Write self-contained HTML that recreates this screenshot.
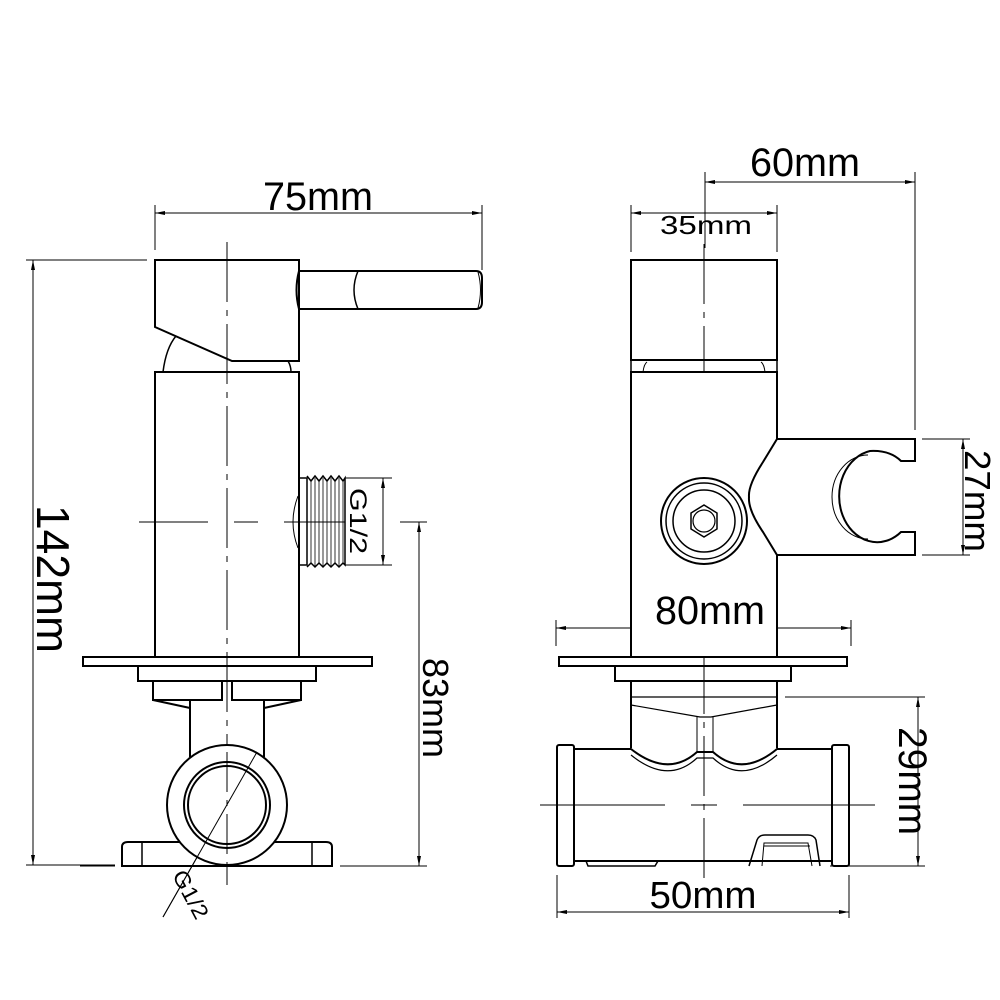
<!DOCTYPE html>
<html><head><meta charset="utf-8"><style>
html,body{margin:0;padding:0;background:#fff}
svg{display:block}
text{font-family:"Liberation Sans",sans-serif;fill:#000}
</style></head><body>
<svg width="1000" height="1000" viewBox="0 0 1000 1000" xmlns="http://www.w3.org/2000/svg">
<defs>
<marker id="a" viewBox="0 0 10 6" refX="10" refY="3" markerWidth="10" markerHeight="6" orient="auto-start-reverse" markerUnits="userSpaceOnUse"><path d="M0,1 L10,3 L0,5 Z" fill="#000"/></marker>
</defs>
<g fill="none" stroke="#000" stroke-width="1">
<!-- ============ LEFT VIEW dimension lines ============ -->
<line x1="155" y1="205" x2="155" y2="250"/>
<line x1="482" y1="205" x2="482" y2="270"/>
<line x1="155" y1="213" x2="482" y2="213" marker-start="url(#a)" marker-end="url(#a)"/>
<line x1="26" y1="260" x2="147" y2="260"/>
<line x1="26" y1="865" x2="115" y2="865"/>
<line x1="33" y1="260" x2="33" y2="865" marker-start="url(#a)" marker-end="url(#a)"/>
<line x1="345" y1="478" x2="392" y2="478"/>
<line x1="345" y1="565" x2="392" y2="565"/>
<line x1="383" y1="478" x2="383" y2="565" marker-start="url(#a)" marker-end="url(#a)"/>
<line x1="400" y1="522" x2="427" y2="522"/>
<line x1="340" y1="866" x2="427" y2="866"/>
<line x1="419" y1="522" x2="419" y2="866" marker-start="url(#a)" marker-end="url(#a)"/>
<line x1="257" y1="752" x2="163" y2="917"/>
<!-- center lines left -->
<g stroke-dasharray="60,8,6,8">
<line x1="227" y1="242" x2="227" y2="885"/>
</g>
<line x1="139" y1="522" x2="208" y2="522"/>
<line x1="234" y1="522" x2="258" y2="522"/>
<line x1="284" y1="522" x2="345" y2="522"/>
</g>

<g fill="none" stroke="#000" stroke-width="2">
<!-- handle -->
<path d="M155,260 H299 V361 H232 L155,327 Z"/>
<path d="M299,271 H476 Q482,271 482,278 V302 Q482,309 476,309 H299 Q294,290 299,271 Z"/>
<path d="M358,271 Q350,290 358,309" stroke-width="1.5"/>
<path d="M478,272 Q483,290 478,308" stroke-width="1"/>
<path d="M163,372 Q166,348 176,336" stroke-width="1.5"/>
<path d="M288,361 Q291,366 291,372" stroke-width="1.5"/>
<!-- body -->
<rect x="155" y="372" width="144" height="285"/>
<!-- thread -->
<rect x="299" y="478" width="8" height="87" stroke-width="1.5"/>
<path d="M307,476 L311,481 L315,476 L319,481 L323,476 L327,481 L331,476 L335,481 L339,476 L343,481 L345,478 V565 L343,563 L339,567 L335,563 L331,567 L327,563 L323,567 L319,563 L315,567 L311,563 L307,567" stroke-width="1.5"/>
<path d="M311,481 V563 M315,478 V566 M319,481 V563 M323,478 V566 M327,481 V563 M331,478 V566 M335,481 V563 M339,478 V566 M343,481 V563" stroke-width="0.8"/>
<path d="M298,496 Q288,522 298,548" stroke-width="1"/>
<!-- plate etc -->
<rect x="83" y="657" width="289" height="9"/>
<rect x="138" y="666" width="178" height="15"/>
<rect x="153" y="681" width="69" height="19"/>
<rect x="232" y="681" width="69" height="19"/>
<path d="M153,700 L190,708 M301,700 L264,708"/>
<path d="M190,700 V757 M264,700 V757"/>
<!-- foot -->
<path d="M122,866 V847 Q122,842 128,842 H326 Q332,842 332,847 V866 Z"/>
<path d="M142,843 V866 M312,843 V866" stroke-width="1.5"/>
<circle cx="227" cy="805" r="60" fill="#fff"/>
<circle cx="227" cy="805" r="43"/>
<circle cx="227" cy="805" r="39"/>
</g>
<g fill="none" stroke="#000" stroke-width="1">
<line x1="227" y1="752" x2="227" y2="885" stroke-dasharray="40,8,6,8"/>
<line x1="257" y1="752" x2="163" y2="917"/>
<line x1="80" y1="866" x2="115" y2="866"/>
</g>

<!-- left labels -->
<text x="318" y="210" font-size="40" text-anchor="middle" textLength="110" lengthAdjust="spacingAndGlyphs">75mm</text>
<text transform="translate(37,579) rotate(90)" font-size="46" text-anchor="middle" textLength="148" lengthAdjust="spacingAndGlyphs">142mm</text>
<text transform="translate(350,521) rotate(90)" font-size="24" text-anchor="middle" textLength="66" lengthAdjust="spacingAndGlyphs">G1/2</text>
<text transform="translate(423,708) rotate(90)" font-size="36" text-anchor="middle" textLength="100" lengthAdjust="spacingAndGlyphs">83mm</text>
<text transform="translate(184,898) rotate(62)" font-size="22" text-anchor="middle" textLength="52" lengthAdjust="spacingAndGlyphs">G1/2</text>

<!-- ============ RIGHT VIEW ============ -->
<g fill="none" stroke="#000" stroke-width="1">
<line x1="705" y1="172" x2="705" y2="248"/>
<line x1="915" y1="172" x2="915" y2="430"/>
<line x1="705" y1="182" x2="915" y2="182" marker-start="url(#a)" marker-end="url(#a)"/>
<line x1="631" y1="205" x2="631" y2="252"/>
<line x1="777" y1="205" x2="777" y2="252"/>
<line x1="631" y1="213" x2="777" y2="213" marker-start="url(#a)" marker-end="url(#a)"/>
<line x1="922" y1="439" x2="970" y2="439"/>
<line x1="922" y1="555" x2="970" y2="555"/>
<line x1="963" y1="439" x2="963" y2="555" marker-start="url(#a)" marker-end="url(#a)"/>
<line x1="556" y1="620" x2="556" y2="646"/>
<line x1="851" y1="620" x2="851" y2="646"/>
<line x1="556" y1="628" x2="851" y2="628" marker-start="url(#a)" marker-end="url(#a)"/>
<line x1="785" y1="697" x2="925" y2="697"/>
<line x1="830" y1="866" x2="925" y2="866"/>
<line x1="918" y1="697" x2="918" y2="866" marker-start="url(#a)" marker-end="url(#a)"/>
<line x1="557" y1="875" x2="557" y2="918"/>
<line x1="849" y1="875" x2="849" y2="918"/>
<line x1="557" y1="912" x2="849" y2="912" marker-start="url(#a)" marker-end="url(#a)"/>
<line x1="704" y1="244" x2="704" y2="885" stroke-dasharray="60,8,6,8"/>
<line x1="540" y1="805" x2="665" y2="805"/>
<line x1="691" y1="805" x2="717" y2="805"/>
<line x1="743" y1="805" x2="875" y2="805"/>
</g>
<g fill="none" stroke="#000" stroke-width="2">
<rect x="631" y="260" width="146" height="100"/>
<path d="M631,360 V372 M777,360 V372" stroke-width="1.5"/>
<path d="M643,372 Q644,364 647,362 M765,372 Q764,364 761,362" stroke-width="1"/>
<rect x="631" y="372" width="146" height="285" fill="#fff"/>
<!-- holder -->
<path d="M777,439 H915 V461 H901 Q890,450 870,451 A38,46 0 1 0 901,532 H915 V555 H777 L763,532 Q748,510 749,497 Q748,485 763,462 Z" fill="#fff"/>
<path d="M868,455 A36,42 0 1 0 868,539" stroke-width="1"/>
<!-- knob -->
<circle cx="704" cy="521" r="43"/>
<circle cx="704" cy="521" r="38" stroke-width="1.5"/>
<circle cx="704" cy="521" r="31" stroke-width="1.5"/>
<path d="M704,505 L717,513 L717,529 L704,537 L691,529 L691,513 Z" stroke-width="1.5"/>
<circle cx="704" cy="521" r="11" stroke-width="1.2"/>
<!-- plate -->
<rect x="559" y="657" width="288" height="9"/>
<rect x="615" y="666" width="176" height="15"/>
<path d="M631,681 V748 M777,681 V748"/>
<path d="M631,697 H777" stroke-width="1.2"/>
<path d="M631,705 L700,717 L711,717 L777,705" stroke-width="1.2"/>
<path d="M697,717 V752 M713,717 V752" stroke-width="1"/>
<!-- pipe -->
<path d="M574,749 H631 Q668,778 697,752 H713 Q742,778 777,749 H832 M574,861 H832"/>
<path d="M631,755 Q668,785 697,758 H713 Q742,785 777,755" stroke-width="1.2"/>
<rect x="557" y="745" width="17" height="121" rx="2"/>
<rect x="832" y="745" width="17" height="121" rx="2"/>
<path d="M574,749 V861 M832,749 V861" stroke-width="1"/>
<path d="M586,861 L588,866 H655 L658,861" stroke-width="1.5"/>
<path d="M749,866 L757,840 Q759,835 765,835 H808 Q814,835 816,840 L820,866" stroke-width="1.5"/>
<path d="M762,866 L764,843 H808 L812,866 M764,846 H810" stroke-width="1"/>
</g>
<!-- right labels -->
<text x="805" y="176" font-size="40" text-anchor="middle" textLength="110" lengthAdjust="spacingAndGlyphs">60mm</text>
<text x="706" y="234" font-size="26" text-anchor="middle" textLength="92" lengthAdjust="spacingAndGlyphs">35mm</text>
<text x="710" y="624" font-size="40" text-anchor="middle" textLength="110" lengthAdjust="spacingAndGlyphs">80mm</text>
<text transform="translate(965,501) rotate(90)" font-size="36" text-anchor="middle" textLength="102" lengthAdjust="spacingAndGlyphs">27mm</text>
<text transform="translate(899,781) rotate(90)" font-size="40" text-anchor="middle" textLength="108" lengthAdjust="spacingAndGlyphs">29mm</text>
<text x="703" y="908" font-size="38" text-anchor="middle" textLength="107" lengthAdjust="spacingAndGlyphs">50mm</text>
</svg>
</body></html>
